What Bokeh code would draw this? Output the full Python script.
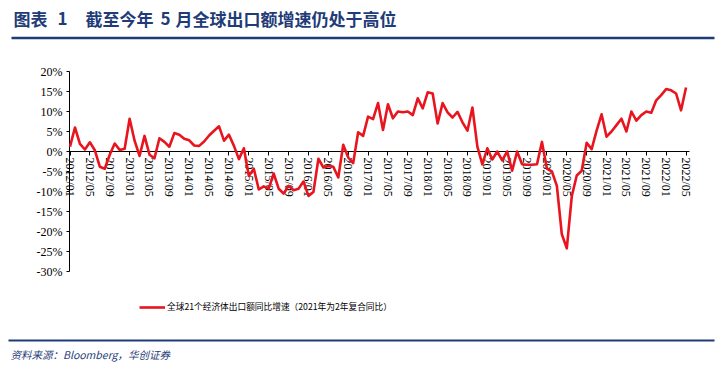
from bokeh.plotting import figure
from bokeh.models import Range1d, FixedTicker, Legend, LegendItem
from bokeh.core.properties import value
from bokeh.embed import file_html
from bokeh.resources import INLINE

# ---------------- data ----------------
months = [f"{y}/{m:02d}" for y in range(2012, 2023) for m in range(1, 13)][:125]
growth = [
    1.2, 6.0, 1.9, 0.5, 2.3, 0.3, -3.8, -4.3, -0.8, 2.0, 0.4, 0.7,      # 2012
    8.2, 2.7, -1.1, 3.9, -0.8, -1.7, 3.3, 2.4, 1.2, 4.6, 4.2, 3.2,      # 2013
    2.8, 1.5, 1.4, 2.5, 4.0, 5.2, 6.3, 2.7, 4.2, 1.4, -1.9, 0.8,        # 2014
    -6.1, -4.3, -9.5, -8.7, -9.3, -5.5, -9.3, -10.5, -8.6, -9.7, -9.3, -7.5,  # 2015
    -11.1, -10.1, -1.8, -4.0, -3.6, -3.8, -6.5, 1.7, -1.5, -2.9, 4.8, 3.9,    # 2016
    8.7, 8.1, 12.1, 5.4, 11.8, 8.3, 10.0, 9.8, 10.0, 9.1, 13.3, 10.8,   # 2017
    14.8, 14.5, 7.0, 12.1, 9.8, 8.5, 9.9, 7.3, 5.2, 11.0, 1.2, -3.2,    # 2018
    0.8, -2.0, 0.0, -2.2, 0.0, -4.8, 0.0, -3.2, -3.3, -3.3, -3.2, 2.4,  # 2019
    -4.3, -5.0, -8.6, -20.7, -24.2, -11.2, -6.0, -4.8, 2.2, 0.6, 5.2, 9.3,  # 2020
    3.7, 5.0, 6.6, 8.2, 5.0, 10.0, 7.7, 9.1, 10.0, 9.7, 12.8, 14.1,     # 2021
    15.6, 15.3, 14.5, 10.3, 16.0,                                       # 2022
]
series_name = "全球21个经济体出口额同比增速（2021年为2年复合同比）"
y_ticks = [-30, -25, -20, -15, -10, -5, 0, 5, 10, 15, 20]
y_tick_labels = ["-30%", "-25%", "-20%", "-15%", "-10%", "-5%", "0%", "5%", "10%", "15%", "20%"]
x_tick_step = 4

title_parts = ["图表", "1", "截至今年", "5", "月全球出口额增速仍处于高位"]
source_text = "资料来源：Bloomberg，华创证券"

# ---------------- layout / styles ----------------
W, H = 725, 376
X0_PX, PX_PER_MONTH = 69.5, 4.968     # pixel of first month, pixels per month
Y0_PX, PX_PER_PCT = 151.0, 4.0        # pixel of 0%, pixels per percent
NAVY = "#1F3C78"
RED = "#E8141E"
CJK = "Noto Sans CJK SC"
SERIF = "Liberation Serif"

x_range = Range1d(-X0_PX / PX_PER_MONTH, (W - X0_PX) / PX_PER_MONTH)
y_range = Range1d((Y0_PX - H) / PX_PER_PCT, Y0_PX / PX_PER_PCT)

p = figure(width=W, height=H, x_range=x_range, y_range=y_range,
           output_backend="svg", toolbar_location=None, min_border=0)
p.extra_x_ranges = {"px": Range1d(0, W)}
p.extra_y_ranges = {"px": Range1d(H, 0)}
p.outline_line_color = None
p.xgrid.visible = False
p.ygrid.visible = False
p.background_fill_color = "white"
p.border_fill_color = "white"

x_idx = list(range(len(months)))
r = p.line(x_idx, growth, line_color=RED, line_width=2.6, line_join="round")
r.level = "overlay"   # line drawn over the axis labels, as in the reference

# y axis
p.yaxis.fixed_location = -0.1
p.yaxis.bounds = (min(y_ticks), max(y_ticks))
p.yaxis.ticker = FixedTicker(ticks=y_ticks)
p.yaxis.major_label_overrides = {t: l for t, l in zip(y_ticks, y_tick_labels)}
p.yaxis.minor_tick_line_color = None
p.yaxis.major_tick_out = 3
p.yaxis.major_tick_in = 0
p.yaxis.major_label_standoff = 4
p.yaxis.axis_line_color = "black"
p.yaxis.major_tick_line_color = "black"
p.yaxis.major_label_text_font = SERIF
p.yaxis.major_label_text_font_size = "12px"
p.yaxis.major_label_text_color = "black"

# x axis at 0%
xt = list(range(0, len(months), x_tick_step))
p.xaxis.fixed_location = 0
p.xaxis.bounds = (-0.1, len(months) - 0.4)
p.xaxis.ticker = FixedTicker(ticks=xt)
p.xaxis.major_label_overrides = {i: months[i] for i in xt}
p.xaxis.minor_tick_line_color = None
p.xaxis.major_tick_out = 4
p.xaxis.major_tick_in = 0
p.xaxis.major_label_standoff = 2
p.xaxis.major_label_orientation = "vertical"
p.xaxis.axis_line_color = "black"
p.xaxis.major_tick_line_color = "black"
p.xaxis.major_label_text_font = SERIF
p.xaxis.major_label_text_font_size = "12px"
p.xaxis.major_label_text_color = "black"

# legend
legend = Legend(items=[LegendItem(label=series_name, renderers=[r])],
                location=(139, 63), orientation="horizontal",
                glyph_width=26, glyph_height=10, label_height=10, label_standoff=2,
                padding=0, margin=0, spacing=0,
                border_line_color=None, background_fill_alpha=0,
                label_text_font=CJK, label_text_font_size="8.7px", label_text_color="black")
p.add_layout(legend)

# title, rules and source (pixel coordinates)
p.text(x=[13, 57, 85, 160, 175], y=[18] * 5, text=title_parts,
       text_font=value(CJK), text_font_style="bold", text_font_size="17px",
       text_color=NAVY, text_baseline="middle", text_align="left",
       x_range_name="px", y_range_name="px")
p.segment(x0=[11, 8], y0=[37.5, 340], x1=[714, 714], y1=[37.5, 340],
          line_color=NAVY, line_width=[2.5, 2.2],
          x_range_name="px", y_range_name="px")
p.text(x=[10], y=[354], text=[source_text], text_font=value(CJK),
       text_font_style="italic", text_font_size="10.5px", text_color=NAVY,
       text_baseline="middle", text_align="left",
       x_range_name="px", y_range_name="px")

open("out.html", "w").write(file_html(p, INLINE))
